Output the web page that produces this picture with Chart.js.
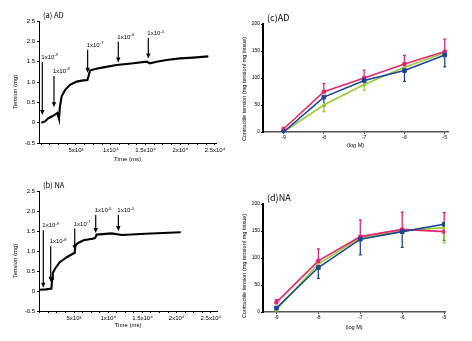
<!DOCTYPE html>
<html lang="en">
<head>
<meta charset="UTF-8">
<title>AD / NA contraction</title>
<script src="https://cdn.jsdelivr.net/npm/chart.js"></script>
<style>
  body { margin: 0; background: #fff; }
  #wrap { position: relative; width: 472px; height: 341px; }
  #wrap canvas { position: absolute; }
</style>
</head>
<body>
<div id="wrap">
  <canvas id="traceAD" width="236" height="170" style="left:0;top:0"></canvas>
  <canvas id="traceNA" width="236" height="171" style="left:0;top:170px"></canvas>
  <canvas id="doseAD" width="232" height="170" style="left:240px;top:0"></canvas>
  <canvas id="doseNA" width="232" height="171" style="left:240px;top:170px"></canvas>
</div>

<script>
// ---- (a) AD trace (time in ms, tension in mg) ----
const adTime    = [0, 540, 1020, 1500, 1980, 2310, 2460, 2550, 2700, 2940, 3420, 4140, 5100, 6050, 6640, 6780, 7020, 7740, 8940, 10850, 13250, 15170, 15650, 16610, 18040, 19960, 21880, 24040];
const adTension = [0.0, 0.03, 0.11, 0.15, 0.2, 0.24, 0.15, 0.1, 0.4, 0.65, 0.8, 0.93, 1.01, 1.04, 1.05, 1.13, 1.28, 1.32, 1.36, 1.42, 1.46, 1.5, 1.46, 1.5, 1.54, 1.58, 1.6, 1.63];
const adDoseTime = [156, 1835, 6680, 11090, 15410];
const adArrowTop = [1.5, 1.15, 1.79, 1.99, 2.08];
const adArrowTip = [0.19, 0.38, 1.23, 1.48, 1.58];

// ---- (b) NA trace ----
const naTime    = [0, 900, 1700, 1800, 1900, 2200, 2900, 4000, 5000, 5100, 5200, 5600, 6400, 7900, 8100, 8300, 10500, 12000, 15400, 18000, 20600];
const naTension = [0.03, 0.04, 0.06, 0.3, 0.45, 0.55, 0.72, 0.85, 0.95, 0.98, 1.15, 1.2, 1.27, 1.31, 1.33, 1.41, 1.44, 1.4, 1.43, 1.45, 1.47];
const naDoseTime = [510, 1590, 5100, 8170, 11480];
const naArrowTop = [1.52, 1.12, 1.56, 1.9, 1.9];
const naArrowTip = [0.08, 0.23, 1.02, 1.45, 1.5];

const doseExp = ['-9', '-8', '-7', '-6', '-5'];
const timeTicks = [5000, 10000, 15000, 20000, 25000];
const timeTickLabels = ['5x10³', '1x10⁴', '1.5x10⁴', '2x10⁴', '2.5x10⁴'];
const timeMinorStep = 1250;

// ---- (c)/(d) dose-response, log M ----
const logDose = [-9, -8, -7, -6, -5];
const adPink  = [5.5, 74.6, 100, 126, 149];
const adPinkErr  = [3, 15, 14.5, 16, 23];
const adBlue  = [0, 64.6, 95.4, 113.8, 142.7];
const adBlueErr  = [1, 17, 9, 20, 22];
const adGreen = [0, 50, 88, 120, 146.6];
const adGreenErr = [0, 12, 11, 4, 8];

const naPink  = [17.7, 94.7, 139.6, 153, 148.8];
const naPinkErr  = [5, 22, 31, 32, 35];
const naBlue  = [7.4, 82.4, 134.8, 148.8, 162.5];
const naBlueErr  = [3, 20, 29, 29, 30];
const naGreen = [4, 88.6, 137.8, 150, 156.2];
const naGreenErr = [2, 10, 6, 6, 28];

const PINK = '#e5266f', BLUE = '#1e4496', GREEN = '#9bcc34';
const FONT = '"Liberation Sans", "DejaVu Sans", sans-serif';

// panel title + rotated y-axis title
function panelText(title, titleSize, yTitle, ySize, yX, yShift) {
  return {
    id: 'panelText',
    afterDraw(chart) {
      const {ctx, chartArea} = chart;
      ctx.save();
      ctx.fillStyle = '#000';
      ctx.textBaseline = 'middle';
      ctx.font = titleSize + 'px "Noto Sans CJK JP", ' + FONT;
      ctx.fillText(title, chartArea.left + 4, chartArea.top - 6);
      ctx.translate(yX, (chartArea.top + chartArea.bottom) / 2 + yShift);
      ctx.rotate(-Math.PI / 2);
      ctx.textAlign = 'center';
      ctx.font = ySize + 'px ' + FONT;
      ctx.fillText(yTitle, 0, 0);
      ctx.restore();
    }
  };
}

// dose addition arrows with 1x10^n labels
function arrowPlugin(doseTime, tops, tips) {
  return {
    id: 'doseArrows',
    afterDatasetsDraw(chart) {
      const {ctx, scales: {x, y}} = chart;
      ctx.save();
      ctx.strokeStyle = '#000';
      ctx.fillStyle = '#000';
      ctx.lineWidth = 1.2;
      doseTime.forEach((t, i) => {
        const px = x.getPixelForValue(t);
        const y0 = y.getPixelForValue(tops[i]);
        const y1 = y.getPixelForValue(tips[i]);
        ctx.beginPath();
        ctx.moveTo(px, y0);
        ctx.lineTo(px, y1 - 4);
        ctx.stroke();
        ctx.beginPath();
        ctx.moveTo(px - 2.2, y1 - 5);
        ctx.lineTo(px + 2.2, y1 - 5);
        ctx.lineTo(px, y1);
        ctx.closePath();
        ctx.fill();
        const lx = px - 1, ly = y0 - 3;
        ctx.font = '6px ' + FONT;
        ctx.fillText('1x10', lx, ly);
        const w = ctx.measureText('1x10').width;
        ctx.font = '4px ' + FONT;
        ctx.fillText(doseExp[i], lx + w + 0.3, ly - 2.5);
      });
      ctx.restore();
    }
  };
}

// one-sided error bars (pink up, others down)
const errorBars = {
  id: 'errorBars',
  beforeDatasetsDraw(chart) {
    const {ctx, scales: {x, y}} = chart;
    ctx.save();
    ctx.lineWidth = 1.3;
    chart.data.datasets.forEach(ds => {
      ctx.strokeStyle = ds.borderColor;
      ds.data.forEach((p, i) => {
        const e = ds.err[i];
        if (!e) return;
        const px = x.getPixelForValue(p.x);
        const py0 = y.getPixelForValue(p.y);
        const py1 = y.getPixelForValue(p.y + ds.errSign * e);
        ctx.beginPath();
        ctx.moveTo(px, py0);
        ctx.lineTo(px, py1);
        ctx.moveTo(px - 1.5, py1);
        ctx.lineTo(px + 1.5, py1);
        ctx.stroke();
      });
    });
    ctx.restore();
  }
};

function traceChart(id, time, tension, doseTime, tops, tips, cfg) {
  return new Chart(document.getElementById(id), {
    type: 'scatter',
    data: {
      datasets: [{
        data: time.map((t, i) => ({x: t, y: tension[i]})),
        showLine: true,
        borderColor: '#000',
        borderWidth: 2.1,
        pointRadius: 0
      }]
    },
    options: {
      responsive: false,
      animation: false,
      layout: {padding: {top: cfg.top, right: cfg.right, bottom: 0, left: 0}},
      plugins: {legend: {display: false}, tooltip: {enabled: false}},
      scales: {
        x: {
          type: 'linear', min: cfg.xMin, max: cfg.xMax,
          afterBuildTicks: s => {
            const ticks = [];
            for (let v = 0; v <= 25000; v += timeMinorStep) ticks.push({value: v});
            s.ticks = ticks;
          },
          afterFit: s => { s.height = cfg.xHeight; },
          ticks: {
            autoSkip: false, maxRotation: 0, padding: 2, color: '#000',
            font: {size: 6, family: FONT},
            callback: v => { const i = timeTicks.indexOf(v); return i >= 0 ? timeTickLabels[i] : ''; }
          },
          grid: {drawOnChartArea: false, tickLength: 2, color: '#000'},
          border: {color: '#000', width: 1},
          title: {display: true, text: 'Time (ms)', color: '#000',
                  font: {size: 6, family: FONT}, padding: {top: 0, bottom: cfg.xTitlePad}}
        },
        y: {
          min: -0.5, max: 2.5,
          afterFit: s => { s.width = 39; },
          ticks: {stepSize: 0.5, padding: 2, color: '#000', font: {size: 6, family: FONT}},
          grid: {drawOnChartArea: false, tickLength: 2, color: '#000'},
          border: {color: '#000', width: 1}
        }
      }
    },
    plugins: [arrowPlugin(doseTime, tops, tips), panelText(cfg.title, 7.5, 'Tension (mg)', 6, 15, 10)]
  });
}

function doseChart(id, series, cfg) {
  return new Chart(document.getElementById(id), {
    type: 'scatter',
    data: {
      datasets: series.map(s => ({
        data: logDose.map((d, i) => ({x: d, y: s.values[i]})),
        err: s.err,
        errSign: s.sign,
        showLine: true,
        borderColor: s.color,
        backgroundColor: s.color,
        borderWidth: 1.6,
        pointStyle: s.marker,
        pointRadius: s.radius,
        pointBorderWidth: 1
      }))
    },
    options: {
      responsive: false,
      animation: false,
      layout: {padding: {top: cfg.top, right: cfg.right, bottom: 0, left: 0}},
      plugins: {legend: {display: false}, tooltip: {enabled: false}},
      scales: {
        x: {
          type: 'linear', min: cfg.xMin, max: cfg.xMax,
          afterBuildTicks: s => { s.ticks = logDose.map(v => ({value: v})); },
          afterFit: s => { s.height = cfg.xHeight; },
          ticks: {autoSkip: false, maxRotation: 0, padding: 1, color: '#000', font: {size: 5, family: FONT}},
          grid: {drawOnChartArea: false, tickLength: 2, color: '#333'},
          border: {color: '#555', width: 1.5},
          title: {display: true, text: '(log M)', color: '#000',
                  font: {size: 5.5, family: FONT}, padding: {top: 0, bottom: cfg.xTitlePad}}
        },
        y: {
          min: 0, max: 200,
          afterFit: s => { s.width = 23; },
          ticks: {stepSize: 50, padding: 1, color: '#000', font: {size: 5, family: FONT}},
          grid: {drawOnChartArea: false, tickLength: 2, color: '#000'},
          border: {color: '#000', width: 2}
        }
      }
    },
    plugins: [errorBars, panelText(cfg.title, 9, 'Contractile tension (mg tension/ mg tissue)', 5.5, 4, cfg.yShift)]
  });
}

traceChart('traceAD', adTime, adTension, adDoseTime, adArrowTop, adArrowTip,
  {title: '(a) AD', top: 21, right: 20, xHeight: 27, xTitlePad: 7, xMin: -320, xMax: 25150});
traceChart('traceNA', naTime, naTension, naDoseTime, naArrowTop, naArrowTip,
  {title: '(b) NA', top: 21, right: 19, xHeight: 30, xTitlePad: 12, xMin: -120, xMax: 25900});

doseChart('doseAD', [
  {values: adBlue, err: adBlueErr, sign: -1, color: BLUE, marker: 'rect', radius: 2.6},
  {values: adPink, err: adPinkErr, sign: 1, color: PINK, marker: 'rect', radius: 2.2},
  {values: adGreen, err: adGreenErr, sign: -1, color: GREEN, marker: 'triangle', radius: 2}
], {title: '(c)AD', top: 24, right: 24, xHeight: 38, xTitlePad: 21, xMin: -9.51, xMax: -4.92, yShift: 11});

doseChart('doseNA', [
  {values: naBlue, err: naBlueErr, sign: -1, color: BLUE, marker: 'rect', radius: 2.6},
  {values: naPink, err: naPinkErr, sign: 1, color: PINK, marker: 'rect', radius: 2.2},
  {values: naGreen, err: naGreenErr, sign: -1, color: GREEN, marker: 'triangle', radius: 2}
], {title: '(d)NA', top: 34, right: 27, xHeight: 29, xTitlePad: 10, xMin: -9.32, xMax: -4.98, yShift: 8});
</script>
</body>
</html>
